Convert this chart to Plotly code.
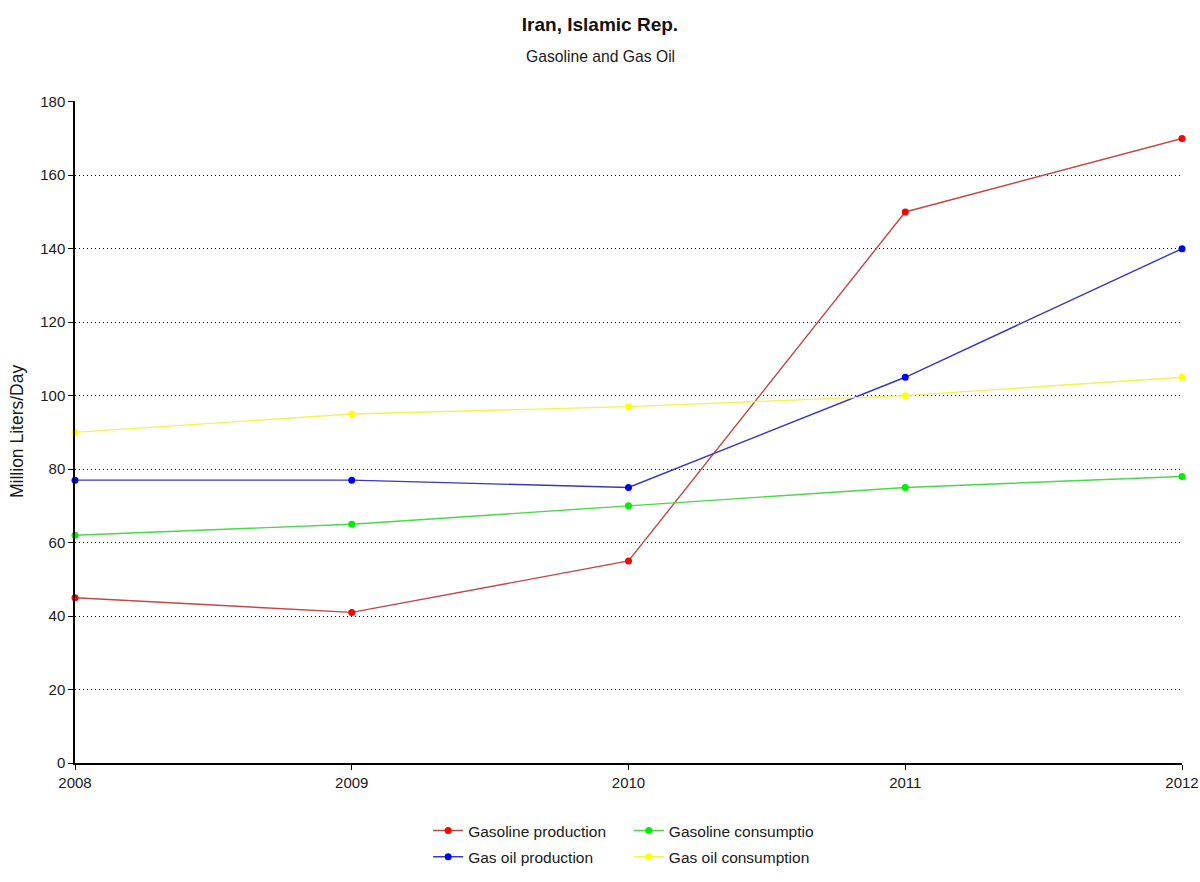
import plotly.graph_objects as go

years = [2008, 2009, 2010, 2011, 2012]
gasoline_production = [45, 41, 55, 150, 170]
gas_oil_production = [77, 77, 75, 105, 140]
gasoline_consumption = [62, 65, 70, 75, 78]
gas_oil_consumption = [90, 95, 97, 100, 105]

series = [
    ("Gasoline production", gasoline_production, "#c04848", "#ff0000", "legend"),
    ("Gas oil production", gas_oil_production, "#3838b8", "#0000ff", "legend"),
    ("Gasoline consumptio", gasoline_consumption, "#48d848", "#00ee00", "legend2"),
    ("Gas oil consumption", gas_oil_consumption, "#f2f250", "#ffff00", "legend2"),
]

FONT = "Liberation Sans, Arial, sans-serif"

W, H = 1200, 882
ML, MR, MT, MB = 75, 18, 101, 119
PW, PH = W - ML - MR, H - MT - MB

fig = go.Figure()
for name, vals, lc, mc, lg in series:
    fig.add_trace(go.Scatter(
        x=years, y=vals, name=name, mode="lines+markers",
        line=dict(color=lc, width=1.4),
        marker=dict(color=mc, size=7),
        legend=lg, legendgroup=name, cliponaxis=False,
    ))

fig.update_layout(
    width=W, height=H,
    paper_bgcolor="white", plot_bgcolor="white",
    margin=dict(l=ML, r=MR, t=MT, b=MB, autoexpand=False),
    font=dict(family=FONT, size=15, color="#1a1a1a"),
    title=dict(
        text="<b>Iran, Islamic Rep.</b>",
        x=0.5, xanchor="center", y=1 - 24 / H, yanchor="middle",
        font=dict(family=FONT, size=19, color="#111111"),
    ),
    xaxis=dict(
        range=[2008, 2012], tickmode="array", tickvals=years,
        ticktext=[str(y) for y in years], ticklabeloverflow="allow",
        showgrid=False, showline=True, linecolor="black", linewidth=1.5,
        ticks="outside", ticklen=5, tickcolor="black", zeroline=False,
    ),
    yaxis=dict(
        range=[0, 180.2], tickvals=[0, 20, 40, 60, 80, 100, 120, 140, 160, 180],
        showgrid=True, gridcolor="black",
        griddash="1px,3px", gridwidth=1,
        showline=True, linecolor="black", linewidth=1.5,
        ticks="outside", ticklen=5, tickcolor="black", zeroline=False,
    ),
    legend=dict(
        x=0.319, xanchor="left", y=-0.077, yanchor="top",
        orientation="v", tracegroupgap=3, bgcolor="rgba(0,0,0,0)",
        font=dict(family=FONT, size=15.5),
    ),
    legend2=dict(
        x=0.5003, xanchor="left", y=-0.077, yanchor="top",
        orientation="v", tracegroupgap=3, bgcolor="rgba(0,0,0,0)",
        font=dict(family=FONT, size=15.5),
    ),
    annotations=[
        dict(text="Gasoline and Gas Oil", xref="paper", yref="paper",
             x=(600 - ML) / PW, xanchor="center", y=1 + (MT - 56) / PH,
             yanchor="middle", showarrow=False,
             font=dict(family=FONT, size=15.7, color="#1a1a1a")),
        dict(text="Million Liters/Day", xref="paper", yref="paper",
             x=(17 - ML) / PW, xanchor="center", y=0.5, yanchor="middle",
             textangle=-90, showarrow=False,
             font=dict(family=FONT, size=17.5, color="#1a1a1a")),
    ],
)

fig.write_html("out.html", config={"displayModeBar": False},
               post_script="document.body.style.margin='0';")
